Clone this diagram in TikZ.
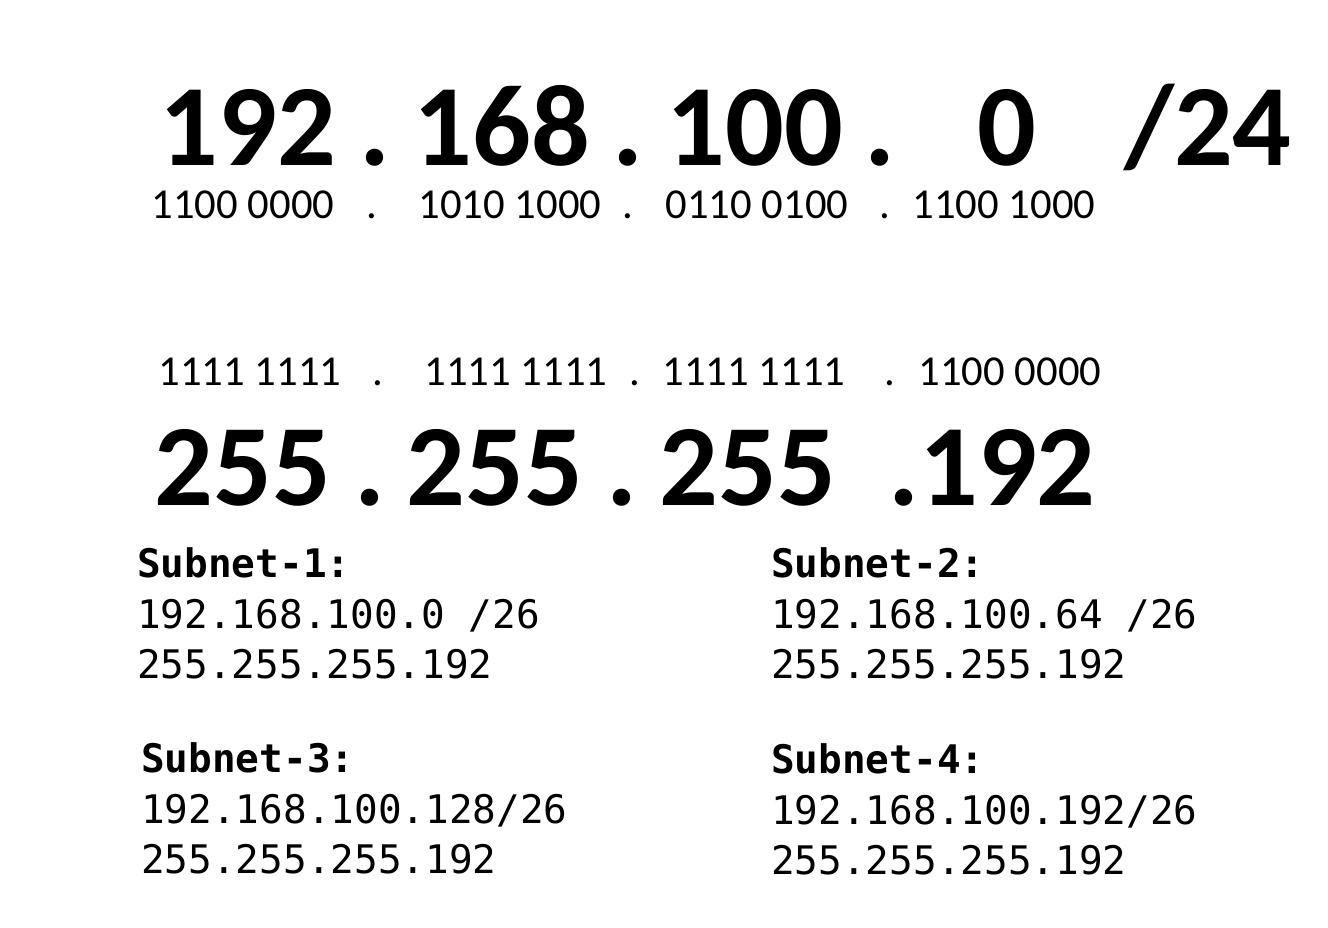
\documentclass[tikz,border=0pt]{standalone}
\usepackage{fontspec}
\setmainfont{Carlito}
\setmonofont{DejaVu Sans Mono}
\tikzset{
  every node/.style={inner sep=0pt, anchor=base},
  big/.style={font=\fontsize{87}{90}\selectfont\bfseries, text depth=0pt},
  bin/.style={font=\fontsize{32}{36}\selectfont, text height=20pt},
  net/.style={font=\fontsize{29.5}{36}\selectfont\ttfamily, anchor=base west},
  nethead/.style={net, font=\fontsize{29.5}{36}\selectfont\ttfamily\bfseries}
}
\begin{document}
\begin{tikzpicture}[x=0.75pt, y=-0.75pt]
  \useasboundingbox (0,0) rectangle (1328,928);
  % address
  \node[big] (a1) at (248,165) {192};
  \node[big] (d1) at (375,165) {.};
  \node[big] (a2) at (502,165) {168};
  \node[big] (d2) at (628,165) {.};
  \node[big] (a3) at (755,165) {100};
  \node[big] (d3) at (880,165) {.};
  \node[big] (a4) at (1007,165) {0};
  \node[big] (pre) at (1208,165) {/24};
  \node[bin] (b1) at (243,218) {1100 0000};
  \node[bin] (e1) at (372,218) {.};
  \node[bin] (b2) at (510,218) {1010 1000};
  \node[bin] (e2) at (628,218) {.};
  \node[bin] (b3) at (757,218) {0110 0100};
  \node[bin] (e3) at (885,218) {.};
  \node[bin] (b4) at (1004,218) {1100 1000};
  % mask
  \node[bin] (c1) at (250,385) {1111 1111};
  \node[bin] (f1) at (378,385) {.};
  \node[bin] (c2) at (516,385) {1111 1111};
  \node[bin] (f2) at (635,385) {.};
  \node[bin] (c3) at (754,385) {1111 1111};
  \node[bin] (f3) at (890,385) {.};
  \node[bin] (c4) at (1010,385) {1100 0000};
  \node[big] (m1) at (243,505) {255};
  \node[big] (g1) at (370,505) {.};
  \node[big] (m2) at (495,505) {255};
  \node[big] (g2) at (622,505) {.};
  \node[big] (m3) at (748,505) {255};
  \node[big] (m4) at (992,505) {.192};
  % subnets
  \node[nethead] (s1) at (137,577) {Subnet-1:};
  \node[net] (s1n) at (137,628) {192.168.100.0 /26};
  \node[net] (s1m) at (137,678) {255.255.255.192};
  \node[nethead] (s2) at (771,577) {Subnet-2:};
  \node[net] (s2n) at (771,628) {192.168.100.64 /26};
  \node[net] (s2m) at (771,678) {255.255.255.192};
  \node[nethead] (s3) at (141,772) {Subnet-3:};
  \node[net] (s3n) at (141,823) {192.168.100.128/26};
  \node[net] (s3m) at (141,873) {255.255.255.192};
  \node[nethead] (s4) at (771,773) {Subnet-4:};
  \node[net] (s4n) at (771,824) {192.168.100.192/26};
  \node[net] (s4m) at (771,874) {255.255.255.192};
\end{tikzpicture}
\end{document}
